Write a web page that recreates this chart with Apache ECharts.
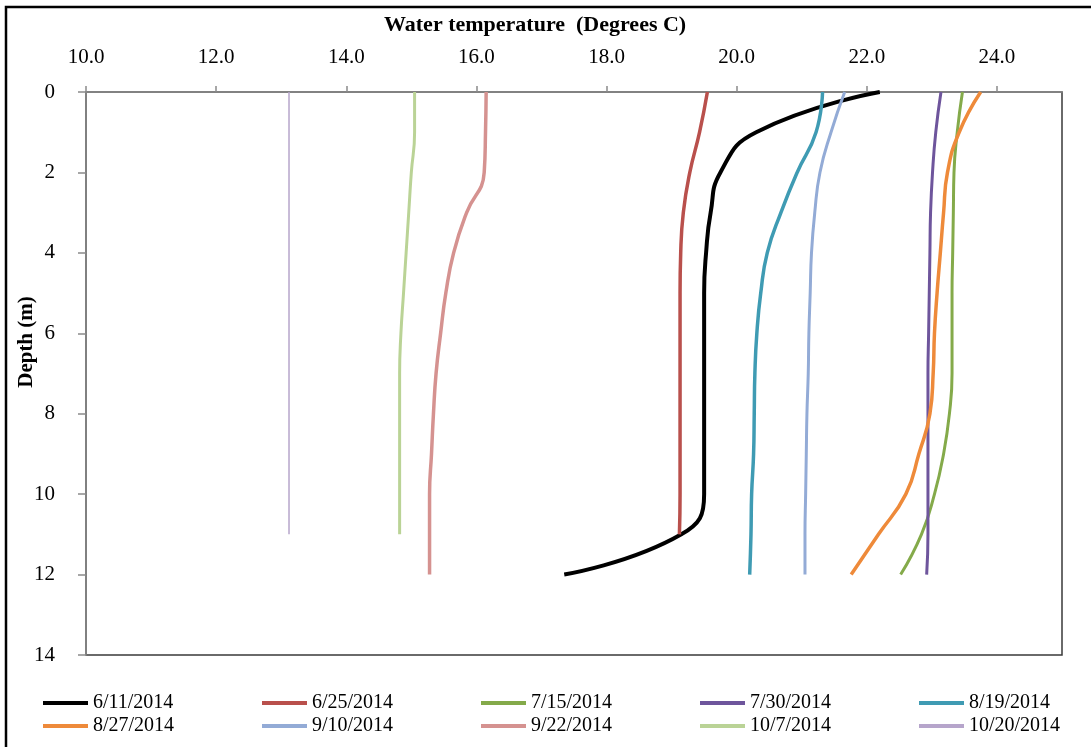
<!DOCTYPE html>
<html>
<head>
<meta charset="utf-8">
<script src="https://cdn.jsdelivr.net/npm/echarts@6/dist/echarts.min.js"></script>
<style>
  html, body { margin: 0; padding: 0; background: #fff; }
  #chart { width: 1091px; height: 747px; }
</style>
</head>
<body>
<div id="chart"></div>
<script>
// depth of each reading (m)
var depths = [0, 1, 2, 3, 4, 5, 6, 7, 8, 9, 10, 11, 12];

// temperature profiles (Degrees C), one value per depth
var t0611 = [22.2, 20.3, 19.75, 19.6, 19.53, 19.5, 19.5, 19.5, 19.5, 19.5, 19.5, 19.15, 17.35];
var t0625 = [19.55, 19.43, 19.28, 19.18, 19.14, 19.13, 19.13, 19.13, 19.13, 19.13, 19.13, 19.12];
var t0715 = [23.47, 23.39, 23.34, 23.33, 23.32, 23.31, 23.31, 23.31, 23.27, 23.18, 23.04, 22.84, 22.52];
var t0730 = [23.14, 23.06, 23.01, 22.98, 22.97, 22.96, 22.95, 22.94, 22.94, 22.94, 22.94, 22.94, 22.92];
var t0819 = [21.32, 21.22, 20.93, 20.68, 20.47, 20.37, 20.31, 20.28, 20.27, 20.26, 20.23, 20.22, 20.2];
var t0827 = [23.75, 23.42, 23.24, 23.18, 23.13, 23.08, 23.04, 23.02, 22.97, 22.8, 22.6, 22.18, 21.76];
var t0910 = [21.66, 21.45, 21.28, 21.2, 21.15, 21.13, 21.11, 21.1, 21.08, 21.07, 21.06, 21.05, 21.05];
var t0922 = [16.15, 16.14, 16.12, 15.85, 15.65, 15.53, 15.45, 15.38, 15.34, 15.31, 15.28, 15.28, 15.28];
var t1007 = [15.05, 15.05, 15.0, 14.96, 14.92, 14.88, 14.84, 14.82, 14.82, 14.82, 14.82, 14.82];
var t1020 = [13.12, 13.12, 13.12, 13.12, 13.12, 13.12, 13.12, 13.12, 13.12, 13.12, 13.12, 13.12];

var names = ['6/11/2014', '6/25/2014', '7/15/2014', '7/30/2014', '8/19/2014',
             '8/27/2014', '9/10/2014', '9/22/2014', '10/7/2014', '10/20/2014'];
var profiles = [t0611, t0625, t0715, t0730, t0819, t0827, t0910, t0922, t1007, t1020];

var colors = ['#000000', '#b9504c', '#84aa4a', '#6e559c', '#3f9bb3',
              '#ee8a3a', '#93abd6', '#d59290', '#bad396', '#b6a5cb'];
var widths = [4, 3.5, 3, 3, 3.5, 3.5, 3, 3.5, 3, 1.5];

var serif = '"Liberation Serif", "Times New Roman", serif';

var chart = echarts.init(document.getElementById('chart'));

var series = [];
for (var k = 0; k < names.length; k++) {
    var pts = [];
    for (var j = 0; j < profiles[k].length; j++) {
        pts.push([profiles[k][j], depths[j]]);
    }
    series.push({
        name: names[k],
        type: 'line',
        data: pts,
        smooth: 0.5,
        symbol: 'none',
        color: colors[k],
        lineStyle: { width: widths[k], color: colors[k] }
    });
}

// one legend per item so the columns line up like the original
var legends = [];
for (var n = 0; n < names.length; n++) {
    legends.push({
        data: [names[n]],
        left: 43 + (n % 5) * 219,
        top: n < 5 ? 693 : 716,
        icon: 'rect',
        itemWidth: 45,
        itemHeight: 4,
        itemStyle: { color: colors[n] },
        padding: 0,
        textStyle: { fontFamily: serif, fontSize: 20, color: '#000' }
    });
}

var option = {
    animation: false,
    backgroundColor: '#fff',
    title: {
        text: 'Water temperature  (Degrees C)',
        left: 384,
        top: 14,
        padding: 0,
        textStyle: { fontFamily: serif, fontSize: 22, fontWeight: 'bold', color: '#000' }
    },
    legend: legends,
    grid: {
        left: 86, right: 29, top: 92, bottom: 92,
        show: true, borderColor: '#3a3a3a', borderWidth: 1.5, backgroundColor: 'transparent'
    },
    xAxis: {
        type: 'value',
        position: 'top',
        min: 10, max: 25, interval: 2,
        axisLine: { show: true, lineStyle: { color: '#8a8a8a', width: 1.5 } },
        axisTick: { show: true, length: 6, lineStyle: { color: '#8a8a8a', width: 1.5 } },
        splitLine: { show: false },
        axisLabel: {
            showMaxLabel: false,
            margin: 24,
            fontFamily: serif, fontSize: 21, color: '#000',
            formatter: function (v) { return v.toFixed(1); }
        }
    },
    yAxis: {
        type: 'value',
        inverse: true,
        min: 0, max: 14, interval: 2,
        axisLine: { show: true, lineStyle: { color: '#8a8a8a', width: 1.5 } },
        axisTick: { show: true, length: 8, lineStyle: { color: '#8a8a8a', width: 1.5 } },
        splitLine: { show: false },
        axisLabel: { margin: 31, fontFamily: serif, fontSize: 21, color: '#000' }
    },
    graphic: [
        {
            type: 'text',
            x: 27, y: 342,
            rotation: Math.PI / 2,
            style: {
                text: 'Depth (m)',
                fontFamily: serif, fontSize: 21, fontWeight: 'bold', fill: '#000',
                align: 'center', verticalAlign: 'middle'
            }
        },
        {
            type: 'rect',
            shape: { x: 6, y: 7, width: 1100, height: 760 },
            style: { fill: 'none', stroke: '#000', lineWidth: 2.5 },
            silent: true
        }
    ],
    series: series
};

chart.setOption(option);
</script>
</body>
</html>
